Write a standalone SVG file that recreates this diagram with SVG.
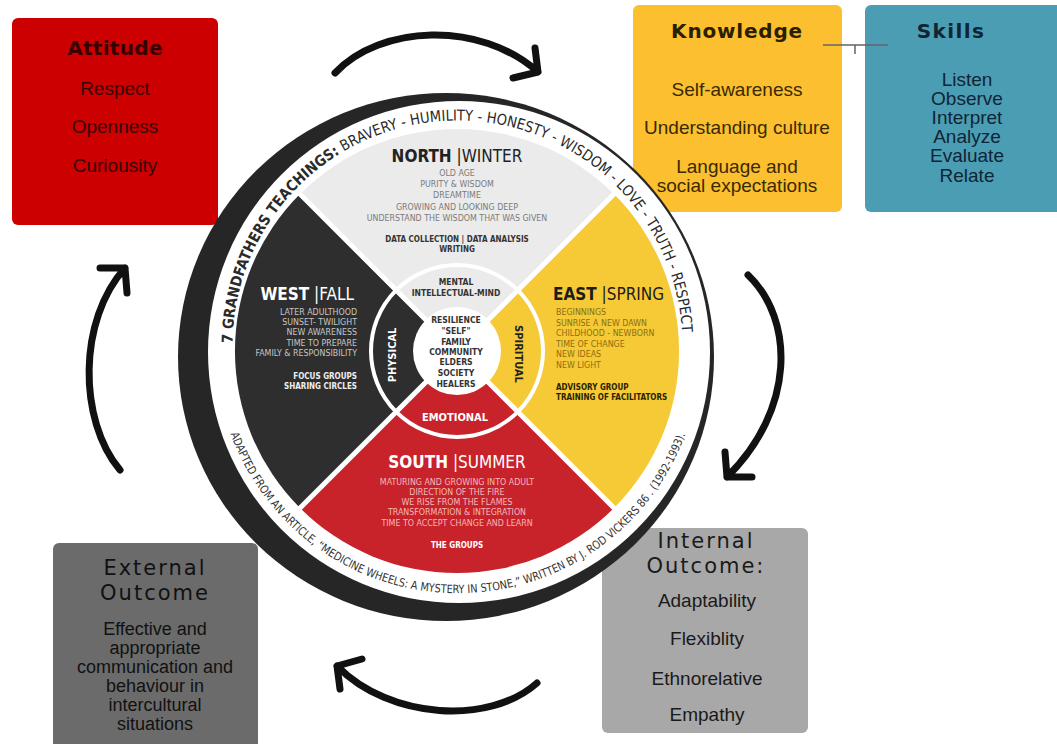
<svg xmlns="http://www.w3.org/2000/svg" width="1057" height="744" viewBox="0 0 1057 744">
<defs>
<style>
.bt{font-family:"DejaVu Sans",sans-serif;text-anchor:middle;font-size:20px}
.it{font-family:"Liberation Sans",Arial,sans-serif;font-size:19px;text-anchor:middle}
.w{font-family:"DejaVu Sans Condensed","DejaVu Sans",sans-serif;font-stretch:condensed}
.mid{text-anchor:middle}
.end{text-anchor:end}
.ttl{font-size:17px}
.ln{font-size:8.8px}
.bd{font-size:8px;font-weight:bold}
.rg{font-size:8.5px;font-weight:bold;fill:#333}
.arrow{fill:none;stroke:#111;stroke-width:7;stroke-linecap:round;stroke-linejoin:round}
</style>
<path id="topArc" d="M233.9,370.6 A225,225 0 1 1 681.1,370.6"/>
<path id="botArc" d="M227.8,425.8 A242,242 0 0 0 688.2,425.8"/>
</defs>
<rect width="1057" height="744" fill="#fff"/>

<g id="box-attitude">
<rect x="12" y="18" width="206" height="207" rx="6" fill="#cc0000"/>
<text class="bt" x="115" y="55" font-weight="bold" letter-spacing="0.3" fill="#3a0000">Attitude</text>
<text class="it" fill="#3a0505"><tspan x="115" y="95">Respect</tspan><tspan x="115" y="133">Openness</tspan><tspan x="115" y="172">Curiousity</tspan></text>
</g>

<g id="box-knowledge">
<rect x="633" y="5" width="209" height="207" rx="6" fill="#fbbf30"/>
<text class="bt" x="737" y="38" font-weight="bold" letter-spacing="0.8" fill="#2a2000">Knowledge</text>
<text class="it" fill="#3a2a00"><tspan x="737" y="96">Self-awareness</tspan><tspan x="737" y="134">Understanding culture</tspan><tspan x="737" y="173">Language and</tspan><tspan x="737" y="192">social expectations</tspan></text>
</g>

<g id="box-skills">
<rect x="865" y="5" width="210" height="207" rx="6" fill="#4b9db4"/>
<text class="bt" x="951" y="38" font-weight="bold" letter-spacing="1.4" fill="#0f2533">Skills</text>
<text class="it" fill="#0f2535"><tspan x="967" y="86">Listen</tspan><tspan x="967" y="105">Observe</tspan><tspan x="967" y="124">Interpret</tspan><tspan x="967" y="143">Analyze</tspan><tspan x="967" y="162">Evaluate</tspan><tspan x="967" y="182">Relate</tspan></text>
</g>

<g id="box-internal">
<rect x="602" y="528" width="206" height="205" rx="6" fill="#a8a8a8"/>
<text class="bt" font-size="21" letter-spacing="2" fill="#1a1a1a" style="font-size:21px"><tspan x="706" y="548">Internal</tspan><tspan x="706" y="573">Outcome:</tspan></text>
<text class="it" fill="#1a1a1a"><tspan x="707" y="607">Adaptability</tspan><tspan x="707" y="645">Flexiblity</tspan><tspan x="707" y="685">Ethnorelative</tspan><tspan x="707" y="721">Empathy</tspan></text>
</g>

<g id="box-external">
<rect x="53" y="543" width="205" height="215" rx="6" fill="#6b6b6b"/>
<text class="bt" letter-spacing="2" fill="#111" style="font-size:21px"><tspan x="155" y="575">External</tspan><tspan x="155" y="600">Outcome</tspan></text>
<text class="it" fill="#111" style="font-size:18px"><tspan x="155" y="635">Effective and</tspan><tspan x="155" y="654">appropriate</tspan><tspan x="155" y="673">communication and</tspan><tspan x="155" y="692">behaviour in</tspan><tspan x="155" y="711">intercultural</tspan><tspan x="155" y="730">situations</tspan></text>
</g>

<g id="wheel">
<ellipse cx="446" cy="357" rx="268" ry="264" fill="#262626"/>
<circle cx="459" cy="352" r="251" fill="#fff"/>
<text class="w" font-size="15" fill="#2a2a2a"><textPath href="#topArc" startOffset="27.5" textLength="691" lengthAdjust="spacingAndGlyphs"><tspan font-weight="bold">7 GRANDFATHERS TEACHINGS:</tspan> BRAVERY - HUMILITY - HONESTY - WISDOM - LOVE - TRUTH - RESPECT</textPath></text>
<text class="w" font-size="11.5" fill="#333"><textPath href="#botArc" startOffset="8.4" textLength="591" lengthAdjust="spacingAndGlyphs">ADAPTED FROM AN ARTICLE, &#8220;MEDICINE WHEELS: A MYSTERY IN STONE,&#8221; WRITTEN BY J. ROD VICKERS 86 . (1992-1993).</textPath></text>
</g>

<g id="north">
<path d="M457,351 L300,194 A222,222 0 0 1 614,194 Z" fill="#ebebeb"/>
<text class="w mid ttl" x="457" y="162" fill="#222"><tspan font-weight="bold">NORTH</tspan> |WINTER</text>
<text class="w mid ln" fill="#7a7a7a"><tspan x="457" y="176">OLD AGE</tspan><tspan x="457" y="187">PURITY &amp; WISDOM</tspan><tspan x="457" y="198">DREAMTIME</tspan><tspan x="457" y="210">GROWING AND LOOKING DEEP</tspan><tspan x="457" y="221">UNDERSTAND THE WISDOM THAT WAS GIVEN</tspan></text>
<text class="w mid bd" fill="#333"><tspan x="457" y="242">DATA COLLECTION | DATA ANALYSIS</tspan><tspan x="457" y="252">WRITING</tspan></text>
</g>

<g id="east">
<path d="M457,351 L614,194 A222,222 0 0 1 614,508 Z" fill="#f6ca36"/>
<text class="w ttl" x="553" y="300" fill="#1c1c1c"><tspan font-weight="bold">EAST</tspan> |SPRING</text>
<text class="w ln" fill="#8c6d12"><tspan x="556" y="315">BEGINNINGS</tspan><tspan x="556" y="326">SUNRISE A NEW DAWN</tspan><tspan x="556" y="336">CHILDHOOD - NEWBORN</tspan><tspan x="556" y="347">TIME OF CHANGE</tspan><tspan x="556" y="357">NEW IDEAS</tspan><tspan x="556" y="368">NEW LIGHT</tspan></text>
<text class="w bd" fill="#2b2200"><tspan x="556" y="390">ADVISORY GROUP</tspan><tspan x="556" y="400">TRAINING OF FACILITATORS</tspan></text>
</g>

<g id="south">
<path d="M457,351 L614,508 A222,222 0 0 1 300,508 Z" fill="#c8222b"/>
<text class="w mid ttl" x="457" y="468" fill="#fff"><tspan font-weight="bold">SOUTH</tspan> |SUMMER</text>
<text class="w mid ln" fill="#f4b9b9"><tspan x="457" y="485">MATURING AND GROWING INTO ADULT</tspan><tspan x="457" y="495">DIRECTION OF THE FIRE</tspan><tspan x="457" y="505">WE RISE FROM THE FLAMES</tspan><tspan x="457" y="515">TRANSFORMATION &amp; INTEGRATION</tspan><tspan x="457" y="526">TIME TO ACCEPT CHANGE AND LEARN</tspan></text>
<text class="w mid bd" x="457" y="548" fill="#fff">THE GROUPS</text>
</g>

<g id="west">
<path d="M457,351 L300,508 A222,222 0 0 1 300,194 Z" fill="#2e2e2e"/>
<text class="w end ttl" x="354" y="300" fill="#fff"><tspan font-weight="bold">WEST</tspan> |FALL</text>
<text class="w end ln" fill="#c6c6c6"><tspan x="357" y="315">LATER ADULTHOOD</tspan><tspan x="357" y="325">SUNSET- TWILIGHT</tspan><tspan x="357" y="335">NEW AWARENESS</tspan><tspan x="357" y="346">TIME TO PREPARE</tspan><tspan x="357" y="356">FAMILY &amp; RESPONSIBILITY</tspan></text>
<text class="w end bd" fill="#eee"><tspan x="357" y="379">FOCUS GROUPS</tspan><tspan x="357" y="389">SHARING CIRCLES</tspan></text>
</g>

<g id="dividers">
<path d="M298,192 L616,510 M616,192 L298,510" stroke="#fff" stroke-width="5" fill="none"/>
<circle cx="457" cy="351" r="86" fill="none" stroke="#fff" stroke-width="4"/>
</g>

<g id="inner-ring">
<text class="w mid rg"><tspan x="456" y="285">MENTAL</tspan><tspan x="456" y="296">INTELLECTUAL-MIND</tspan></text>
<text class="w mid" font-weight="bold" font-size="11" fill="#fff" transform="translate(396,355) rotate(-90)">PHYSICAL</text>
<text class="w mid" font-weight="bold" font-size="11" fill="#222" transform="translate(515,354) rotate(90)">SPIRITUAL</text>
<text class="w mid" font-weight="bold" font-size="11" fill="#fff" x="455" y="421">EMOTIONAL</text>
</g>

<g id="center">
<circle cx="457" cy="351" r="44" fill="#fff"/>
<text class="w mid rg"><tspan x="456" y="323">RESILIENCE</tspan><tspan x="456" y="334">"SELF"</tspan><tspan x="456" y="345">FAMILY</tspan><tspan x="456" y="355">COMMUNITY</tspan><tspan x="456" y="365">ELDERS</tspan><tspan x="456" y="376">SOCIETY</tspan><tspan x="456" y="387">HEALERS</tspan></text>
</g>

<g id="connectors">
<path class="arrow" d="M335,73 C380,25 480,20 538,72 M535,48 L538,72 L513,78"/>
<path class="arrow" d="M748,275 C795,320 795,410 727,477 M725,452 L727,477 L752,477"/>
<path class="arrow" d="M537,683 C490,725 390,720 337,666 M340,689 L337,666 L362,659"/>
<path class="arrow" d="M120,470 C78,420 78,320 125,268 M100,268 L125,268 L127,293"/>
<path d="M823,45 L888,45 M855,45 L855,54" stroke="#666" stroke-width="1.5" fill="none"/>
</g>
</svg>
